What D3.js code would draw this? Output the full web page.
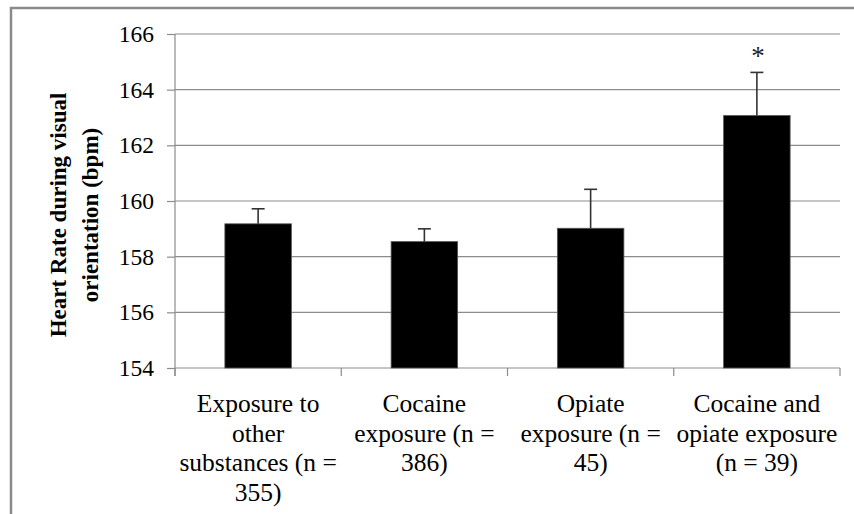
<!DOCTYPE html>
<html>
<head>
<meta charset="utf-8">
<script src="https://cdn.jsdelivr.net/npm/d3@7"></script>
<style>
  body { margin: 0; background: #fff; }
  svg text { font-family: "Liberation Serif", "Times New Roman", Times, serif; }
</style>
</head>
<body>
<div id="chart"></div>
<script>
// chart data
const categories = [
  ["Exposure to", "other", "substances (n =", "355)"],
  ["Cocaine", "exposure (n =", "386)"],
  ["Opiate", "exposure (n =", "45)"],
  ["Cocaine and", "opiate exposure", "(n = 39)"]
];
const means = [159.18, 158.54, 159.02, 163.07];
const errors = [0.54, 0.46, 1.40, 1.55];
const significant = [false, false, false, true];
const yTicks = [154, 156, 158, 160, 162, 164, 166];
const yTitle = ["Heart  Rate during visual", "orientation (bpm)"];

const serif = '"Liberation Serif", "Times New Roman", Times, serif';
const W = 854, H = 514;
const margin = {top: 34, right: 14, bottom: 146, left: 175};
const width = W - margin.left - margin.right;
const height = H - margin.top - margin.bottom;

const svg = d3.select("#chart").append("svg")
  .attr("width", W)
  .attr("height", H);

// outer frame
svg.append("rect")
  .attr("x", 11).attr("y", 8)
  .attr("width", 900).attr("height", 600)
  .attr("fill", "none")
  .attr("stroke", "#8a8a8a")
  .attr("stroke-width", 2.5);

const chart = svg.append("g")
  .attr("transform", `translate(${margin.left}, ${margin.top})`);

// scales
const xScale = d3.scaleBand().domain(d3.range(categories.length)).range([0, width]).padding(0);
const yScale = d3.scaleLinear().domain([154, 166]).range([height, 0]);

// gridlines
chart.append("g").selectAll("line")
  .data(yTicks.filter(d => d > 154))
  .enter().append("line")
  .attr("x1", 0).attr("x2", width)
  .attr("y1", d => yScale(d)).attr("y2", d => yScale(d))
  .attr("stroke", "#8c8c8c").attr("stroke-width", 1.2);

// y axis
const yAxis = chart.append("g")
  .call(d3.axisLeft(yScale).tickValues(yTicks).tickSize(8).tickPadding(13).tickFormat(d3.format("d")));
yAxis.attr("font-family", serif).attr("font-size", "23.5px");
yAxis.select(".domain").attr("stroke", "#8c8c8c").attr("stroke-width", 1.2)
  .attr("d", `M0,${yScale(166)}V${height + 8}`);
yAxis.selectAll(".tick line").attr("stroke", "#8c8c8c").attr("stroke-width", 1.2);
yAxis.selectAll(".tick text").attr("fill", "#000");

// x axis
const xAxis = chart.append("g").attr("transform", `translate(0, ${height})`);
xAxis.append("line")
  .attr("x1", 0).attr("x2", width).attr("y1", 0).attr("y2", 0)
  .attr("stroke", "#8c8c8c").attr("stroke-width", 1.2);
xAxis.selectAll(".xtick")
  .data(d3.range(categories.length + 1))
  .enter().append("line")
  .attr("class", "xtick")
  .attr("x1", d => d * xScale.step()).attr("x2", d => d * xScale.step())
  .attr("y1", 0).attr("y2", 8)
  .attr("stroke", "#8c8c8c").attr("stroke-width", 1.2);

const labels = xAxis.selectAll(".xlabel")
  .data(categories)
  .enter().append("text")
  .attr("class", "xlabel")
  .attr("text-anchor", "middle")
  .attr("font-size", "25.5px")
  .attr("fill", "#000")
  .attr("transform", (d, i) => `translate(${xScale(i) + xScale.bandwidth() / 2}, 0)`);
labels.selectAll("tspan")
  .data(d => d)
  .enter().append("tspan")
  .attr("x", 0)
  .attr("y", (d, i) => 44 + i * 29.5)
  .text(d => d);

// bars
const barW = xScale.bandwidth() * 0.4;
chart.selectAll(".bar")
  .data(means)
  .enter().append("rect")
  .attr("class", "bar")
  .attr("x", (d, i) => xScale(i) + (xScale.bandwidth() - barW) / 2)
  .attr("y", d => yScale(d))
  .attr("width", barW)
  .attr("height", d => height - yScale(d))
  .attr("fill", "#000")
  .attr("stroke", "#555")
  .attr("stroke-width", 0.8);

// error bars
const err = chart.selectAll(".err")
  .data(means)
  .enter().append("g")
  .attr("class", "err")
  .attr("transform", (d, i) => `translate(${xScale(i) + xScale.bandwidth() / 2}, 0)`);
err.append("line")
  .attr("x1", 0).attr("x2", 0)
  .attr("y1", d => yScale(d))
  .attr("y2", (d, i) => yScale(d + errors[i]))
  .attr("stroke", "#333").attr("stroke-width", 1.6);
err.append("line")
  .attr("x1", -6.5).attr("x2", 6.5)
  .attr("y1", (d, i) => yScale(d + errors[i]))
  .attr("y2", (d, i) => yScale(d + errors[i]))
  .attr("stroke", "#333").attr("stroke-width", 1.6);

// significance marker
err.filter((d, i) => significant[i])
  .append("text")
  .attr("text-anchor", "middle")
  .attr("x", 1)
  .attr("y", d => yScale(d + errors[means.indexOf(d)]) - 7)
  .attr("font-size", "27px")
  .attr("fill", "#222")
  .text("*");

// y title
svg.append("text")
  .attr("transform", `translate(66, 215) rotate(-90)`)
  .attr("text-anchor", "middle")
  .attr("font-weight", "bold")
  .attr("font-size", "23px")
  .attr("fill", "#000")
  .selectAll("tspan")
  .data(yTitle)
  .enter().append("tspan")
  .attr("x", 0)
  .attr("y", (d, i) => i * 32)
  .text(d => d);
</script>
</body>
</html>
